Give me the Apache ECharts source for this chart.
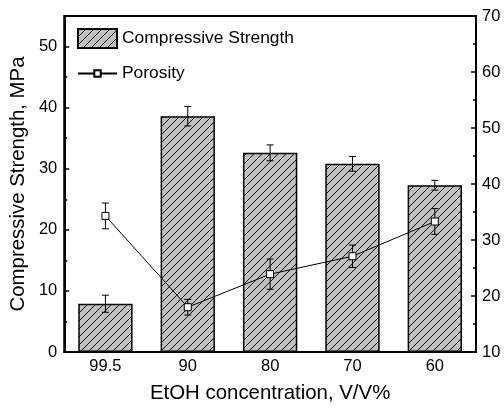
<!DOCTYPE html>
<html>
<head>
<meta charset="utf-8">
<script src="https://cdn.jsdelivr.net/npm/echarts@6/dist/echarts.min.js"></script>
<style>html,body{margin:0;padding:0;background:#fff;}#c{width:504px;height:408px;}</style>
</head>
<body>
<div id="c"></div>
<script>
const categories = ['99.5', '90', '80', '70', '60'];
const strength = [7.9, 38.6, 32.6, 30.8, 27.3];
const strengthErr = [1.4, 1.6, 1.3, 1.2, 0.8];
const porosity = [34.3, 18.0, 23.9, 27.1, 33.3];
const porosityErr = [2.3, 1.4, 2.7, 2.0, 2.3];

const FONT = '"Liberation Sans", Arial, sans-serif';

function hatch() {
  const s = 8;
  const c = document.createElement('canvas');
  c.width = s; c.height = s;
  const g = c.getContext('2d');
  g.fillStyle = '#c0c0c0';
  g.fillRect(0, 0, s, s);
  g.strokeStyle = '#111';
  g.lineWidth = 1;
  g.beginPath();
  g.moveTo(-1, s + 1); g.lineTo(s + 1, -1);
  g.moveTo(-1, 1); g.lineTo(1, -1);
  g.moveTo(s - 1, s + 1); g.lineTo(s + 1, s - 1);
  g.stroke();
  return c;
}
const pattern = { image: hatch(), repeat: 'repeat' };

function errData(vals, errs) {
  return vals.map((v, i) => [i, v - errs[i], v + errs[i]]);
}
function errRender(params, api) {
  const x = api.value(0);
  const lo = api.coord([x, api.value(1)]);
  const hi = api.coord([x, api.value(2)]);
  const w = 3.5;
  const st = { stroke: '#000', lineWidth: 1 };
  return {
    type: 'group',
    children: [
      { type: 'line', shape: { x1: hi[0], y1: hi[1], x2: lo[0], y2: lo[1] }, style: st },
      { type: 'line', shape: { x1: hi[0] - w, y1: hi[1], x2: hi[0] + w, y2: hi[1] }, style: st },
      { type: 'line', shape: { x1: lo[0] - w, y1: lo[1], x2: lo[0] + w, y2: lo[1] }, style: st }
    ]
  };
}

const chart = echarts.init(document.getElementById('c'), null, { renderer: 'canvas' });
const axisLine = { show: true, lineStyle: { color: '#000', width: 2 } };
chart.setOption({
  animation: false,
  textStyle: { fontFamily: FONT },
  grid: { left: 61, right: 28, top: 16, bottom: 56, show: true, borderColor: '#000', borderWidth: 2, backgroundColor: 'transparent' },
  legend: [
    {
      data: [{ name: 'Compressive Strength', icon: 'rect' }], left: 77, top: 28, padding: 0,
      itemWidth: 39, itemHeight: 19, itemGap: 5,
      textStyle: { fontFamily: FONT, fontSize: 17.4, color: '#000' }
    },
    {
      data: ['Porosity'], left: 77, top: 65, padding: 0, itemWidth: 39, itemHeight: 8, itemGap: 5,
      textStyle: { fontFamily: FONT, fontSize: 17.4, color: '#000' }
    }
  ],
  xAxis: {
    type: 'category', data: categories,
    axisLine: axisLine, axisTick: { show: false },
    axisLabel: { color: '#000', fontSize: 16.5, fontFamily: FONT, margin: 6 },
    name: 'EtOH concentration, V/V%', nameLocation: 'middle', nameGap: 31,
    nameTextStyle: { color: '#000', fontSize: 20.4, fontFamily: FONT }
  },
  yAxis: [
    {
      type: 'value', position: 'left', min: 0, max: 55, interval: 10,
      axisLine: axisLine, splitLine: { show: false },
      axisTick: { show: true, inside: true, length: 5, lineStyle: { color: '#000', width: 1.5 } },
      axisLabel: { color: '#000', fontSize: 16.5, fontFamily: FONT, margin: 7, formatter: v => (v % 10 === 0 ? String(v) : '') },
      name: 'Compressive Strength, MPa', nameLocation: 'middle', nameGap: 30, nameRotate: 90,
      nameTextStyle: { color: '#000', fontSize: 20.4, fontFamily: FONT }
    },
    {
      type: 'value', position: 'right', min: 10, max: 70, interval: 10,
      axisLine: axisLine, splitLine: { show: false },
      axisTick: { show: true, inside: true, length: 5, lineStyle: { color: '#000', width: 1.5 } },
      minorTick: { show: true, splitNumber: 2, length: 3, lineStyle: { color: '#000', width: 1.5 } },
      axisLabel: { color: '#000', fontSize: 16.5, fontFamily: FONT, margin: 6 }
    },
    {
      type: 'value', position: 'left', min: 0, max: 55, interval: 5,
      axisLine: { show: false }, splitLine: { show: false },
      axisTick: { show: true, inside: true, length: 3, lineStyle: { color: '#000', width: 1.5 } },
      axisLabel: { show: false }
    }
  ],
  series: [
    {
      name: 'Compressive Strength', type: 'bar', yAxisIndex: 0, data: strength, barWidth: '66%',
      itemStyle: { color: pattern, borderColor: '#000', borderWidth: 1.5 }, z: 2
    },
    {
      name: 'strengthErr', type: 'custom', yAxisIndex: 0, data: errData(strength, strengthErr),
      renderItem: errRender, encode: { x: 0, y: [1, 2] }, z: 4
    },
    {
      name: 'porosityErr', type: 'custom', yAxisIndex: 1, data: errData(porosity, porosityErr),
      renderItem: errRender, encode: { x: 0, y: [1, 2] }, z: 4
    },
    {
      name: 'Porosity', type: 'line', yAxisIndex: 1, data: porosity,
      symbol: 'rect', symbolSize: 7, showAllSymbol: true,
      lineStyle: { color: '#000', width: 1 },
      itemStyle: { color: '#fff', borderColor: '#000', borderWidth: 1 }, z: 5
    }
  ]
});
</script>
</body>
</html>
